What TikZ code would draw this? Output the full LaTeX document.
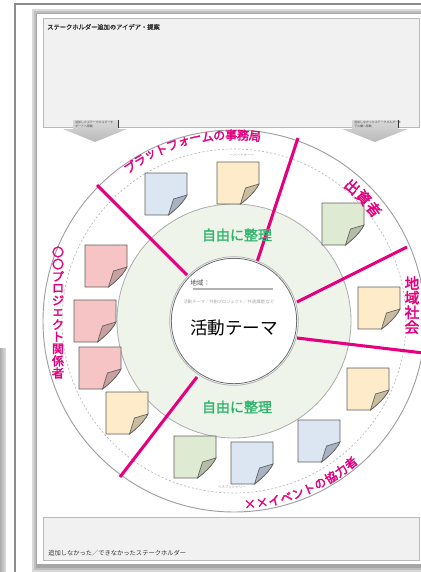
\documentclass[tikz,border=0pt]{standalone}
\usepackage{fontspec}
\newfontfamily\jp{Noto Sans CJK JP}
\newfontfamily\jpb[FakeBold=1.6]{Noto Sans CJK JP}
\newfontfamily\jpbb[FakeBold=2.6]{Noto Sans CJK JP}
\usetikzlibrary{calc}
\definecolor{mag}{HTML}{E4007F}
\definecolor{grn}{HTML}{2FB36B}
\definecolor{ringfill}{HTML}{EEF4EA}
\definecolor{boxfill}{HTML}{F1F1F1}
\definecolor{nblue}{HTML}{DCE6F2}
\definecolor{nbluef}{HTML}{A7B3C2}
\definecolor{nyel}{HTML}{FDEBC9}
\definecolor{nyelf}{HTML}{C9BC9F}
\definecolor{ngrn}{HTML}{DFEAD3}
\definecolor{ngrnf}{HTML}{B5BDA9}
\definecolor{nred}{HTML}{F6C4C4}
\definecolor{nredf}{HTML}{C9A1A1}
\tikzset{
  pics/note/.style 2 args={code={
    \filldraw[fill=#1, draw=gray!75!black, line width=0.5pt]
      (0,0) -- (42,0) -- (42,22) .. controls (38,30) and (30,37) .. (23.5,42) -- (0,42) -- cycle;
    \filldraw[fill=#2, draw=gray!75!black, line width=0.5pt]
      (42,22) -- (28.5,26) -- (23.5,42) .. controls (30,37) and (38,30) .. cycle;
  }},
  boxst/.style={fill=boxfill, draw=gray!55, line width=0.6pt},
  boxtext/.style={font=\jp\fontsize{4.7}{5.5}\selectfont, text=black!80, anchor=west, inner sep=0pt},
  arrowst/.style={top color=gray!30, bottom color=gray!55, draw=none},
  arrowtext/.style={font=\jp\fontsize{2.2}{2.6}\selectfont, text=gray!60!black, align=left, anchor=north west, inner sep=0pt},
  magline/.style={draw=mag, line width=2.3pt},
  maglabel/.style={font=\jpbb\fontsize{9}{9}\selectfont, text=mag, inner sep=0pt},
  maglabelbig/.style={font=\jpbb\fontsize{11}{11}\selectfont, text=mag, inner sep=0pt},
  grntext/.style={font=\jpb\fontsize{10.5}{12}\selectfont, text=grn, inner sep=0pt},
  tinygray/.style={font=\jp\fontsize{2.6}{3}\selectfont, text=gray!80, inner sep=0pt},
}
\begin{document}
\begin{tikzpicture}[x=0.75pt,y=-0.75pt]
\useasboundingbox (0,0) rectangle (421,572);
\fill[white] (0,0) rectangle (421,572);
% left strip
\shade[left color=gray!65, right color=gray!25] (0,348) rectangle (6,572);
% outer frame
\draw[gray!90, line width=1.5pt] (15,572) -- (15,3.5) -- (421,3.5);
% page with shadow
\fill[gray!30] (32,9) rectangle (430,572);
\fill[gray!50] (34,11) rectangle (430,570);
\fill[gray!70] (35.5,12.5) rectangle (430,567.5);
\fill[white] (37,14) rectangle (430,564);

% top and bottom boxes
\draw[boxst] (43,18) rectangle (419,127);
\node[boxtext, font=\jpb\fontsize{4.7}{5.5}\selectfont] (ideas) at (47,27) {ステークホルダー追加のアイデア・提案};
\draw[boxst] (43,517) rectangle (419,560);
\node[boxtext] (notadded) at (48,553) {追加しなかった／できなかったステークホルダー};

% arrows
\shade[arrowst] (73,120) -- (118,120) -- (118,129) -- (127,129) -- (95,142) -- (63,129) -- (73,129) -- cycle;
\draw[gray!40!black, line width=0.7pt] (118,120) -- (118,128);
\node[arrowtext] (arrL) at (75,121) {追加したステークホルダーを\\ボードへ移動};
\shade[arrowst] (352,120) -- (398,120) -- (398,129) -- (408,129) -- (375,142) -- (342,129) -- (352,129) -- cycle;
\draw[gray!40!black, line width=0.7pt] (398,120) -- (398,128);
\node[arrowtext] (arrR) at (354,121) {追加しなかったステークホルダーを\\下の欄へ移動};

% circles
\coordinate (C) at (234,321);
\draw[gray!75, line width=0.7pt] (C) circle (143.25pt);
\draw[gray!55, line width=0.5pt, dash pattern=on 1.5pt off 1.5pt] (C) circle (129pt);
\filldraw[fill=ringfill, draw=gray!65, line width=0.6pt] (C) circle (87.75pt);

% magenta separators
\coordinate (a1) at (97,185);  \coordinate (b1) at (187,275);
\coordinate (a2) at (298,138); \coordinate (b2) at (257,262);
\coordinate (a3) at (407,247); \coordinate (b3) at (297,302);
\coordinate (a4) at (432,354); \coordinate (b4) at (297,338);
\coordinate (a5) at (120,477); \coordinate (b5) at (197,377);
\foreach \k in {1,...,5} { \draw[magline] (a\k) -- (b\k); }

% central circle
\fill[white] (C) circle (48pt);
\draw[gray!60, line width=0.6pt] (C) circle (48.2pt);
\draw[gray!85!black, line width=0.6pt] (C) circle (47pt);

% central texts
\node[font=\jp\fontsize{5}{6}\selectfont, text=gray!60!black, anchor=west, inner sep=0pt] (chiiki) at (190,283) {地域：};
\coordinate (ul1) at (193,289); \coordinate (ul2) at (273,289);
\draw[gray!60, line width=0.8pt] (ul1) -- (ul2);
\node[font=\jp\fontsize{3.2}{4}\selectfont, text=gray!70, inner sep=0pt] (sub) at (229,302) {活動テーマ／共創プロジェクト／共通課題 など};
\node[font=\jp\fontsize{13.2}{15}\selectfont, inner sep=0pt] (theme) at (234,328) {活動テーマ};

% green texts
\node[grntext] (free1) at (237,235) {自由に整理};
\node[grntext] (free2) at (237,407) {自由に整理};

% tiny gray labels
\node[tinygray] (partner) at (242,155) {ーパートナーー};
\node[tinygray] (benef) at (232,487) {ベネフィシャリー};

% sticky notes
\pic at (145,173) {note={nblue}{nbluef}};
\pic at (217,162) {note={nyel}{nyelf}};
\pic at (322,203) {note={ngrn}{ngrnf}};
\pic at (358,287) {note={nyel}{nyelf}};
\pic at (85,245) {note={nred}{nredf}};
\pic at (74,300) {note={nred}{nredf}};
\pic at (79,347) {note={nred}{nredf}};
\pic at (106,392) {note={nyel}{nyelf}};
\pic at (174,436) {note={ngrn}{ngrnf}};
\pic at (231,442) {note={nblue}{nbluef}};
\pic at (298,420) {note={nblue}{nbluef}};
\pic at (347,368) {note={nyel}{nyelf}};

% magenta labels
\foreach \ch [count=\i] in {プ,ラ,ッ,ト,フ,ォ,ー,ム,の,事,務,局} {
  \pgfmathsetmacro\t{124-3.68*(\i-1)}
  \node[maglabel, rotate=\t-90] (pf\i) at ({234+186*cos(\t)},{321-186*sin(\t)}) {\ch};
}
\foreach \ch [count=\i] in {出,資,者} {
  \pgfmathsetmacro\t{48.6-5*(\i-1)}
  \node[maglabelbig, rotate=\t-90] (inv\i) at ({234+179*cos(\t)},{321-179*sin(\t)}) {\ch};
}
\foreach \ch [count=\i] in {地,域,社,会} {
  \node[maglabelbig] (loc\i) at (412,{283+14.7*(\i-1)}) {\ch};
}
\foreach \ch [count=\i] in {〇,〇,プ,ロ,ジ,ェ,ク,ト,関,係,者} {
  \node[maglabel] (prj\i) at (58,{252+12.1*(\i-1)}) {\ch};
}
\foreach \ch [count=\i] in {×,×,イ,ベ,ン,ト,の,協,力,者} {
  \pgfmathsetmacro\t{-85+3.83*(\i-1)}
  \node[maglabel, rotate=\t+90] (ev\i) at ({234+184*cos(\t)},{321-184*sin(\t)}) {\ch};
}
\end{tikzpicture}
\end{document}
